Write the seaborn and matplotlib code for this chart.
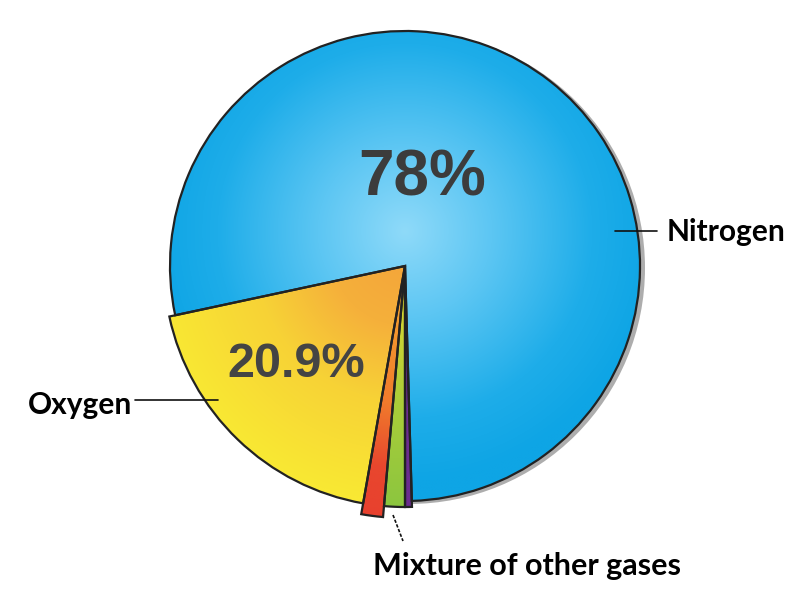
import numpy as np
import matplotlib
matplotlib.use("Agg")
import matplotlib.pyplot as plt
import seaborn as sns
from matplotlib.colors import to_rgb
from matplotlib.patches import Circle

# ---- data (slice shares as drawn, and printed labels) ----
gases = ["Oxygen", "Other gas A", "Other gas B", "Other gas C", "Nitrogen"]
drawn_share = [18.86, 1.39, 1.39, 0.46, 77.9]
pct_text = ["20.9%", "", "", "", "78%"]
outer_labels = ["Oxygen", "Mixture of other gases", "Nitrogen"]
base_colors = ["#f8e234", "#e8412e", "#8cc63f", "#6b2d8f", "#12a7e6"]

sns.set_theme(style="white")
plt.rcParams["font.family"] = ["Lato", "DejaVu Sans"]
palette = sns.color_palette(base_colors)

W, H = 806, 596
fig = plt.figure(figsize=(W / 100, H / 100), dpi=100)
ax = fig.add_axes([0, 0, 1, 1])

cx, cy = 405, 330
wedges, _ = ax.pie(drawn_share, colors=palette, startangle=192.1, counterclock=True,
                   center=(cx, cy), radius=235,
                   wedgeprops=dict(edgecolor="#222222", linewidth=1.6))
radii = [241, 252, 241, 241, 235]
for w, r in zip(wedges, radii):
    w.set_radius(r)

# shadow behind the big disc
ax.add_patch(Circle((cx + 4, cy - 2), 236, color="#adadad", zorder=0.3, lw=0))


def radial(center, rad, stops, ext, n=400):
    xs = np.linspace(ext[0], ext[1], n)
    ys = np.linspace(ext[2], ext[3], n)
    X, Y = np.meshgrid(xs, ys)
    t = np.clip(np.hypot(X - center[0], Y - center[1]) / rad, 0, 1)
    ts = [s[0] for s in stops]
    cols = np.array([to_rgb(s[1]) for s in stops])
    img = np.dstack([np.interp(t, ts, cols[:, k]) for k in range(3)])
    return img


ext = (cx - 265, cx + 265, cy - 265, cy + 265)
grads = [
    ((cx, cy + 15), 250, [(0, "#f4a43a"), (0.3, "#f5b03b"), (0.6, "#f7d236"), (1, "#f9e833")]),
    ((cx, cy), 252, [(0, "#f6b030"), (0.55, "#f07a2c"), (0.8, "#e8472e"), (1, "#e8412e")]),
    ((cx, cy), 241, [(0, "#e6d92e"), (0.6, "#a8cc3a"), (1, "#8cc63f")]),
    ((cx, cy), 241, [(0, "#6b2d8f"), (1, "#6b2d8f")]),
    ((cx, cy + 35), 250, [(0, "#8fdaf9"), (0.35, "#5cc6f3"), (0.75, "#1eade9"), (1, "#0ea5e5")]),
]
for w, (c, r, stops) in zip(wedges, grads):
    img = radial(c, r, stops, ext)
    im = ax.imshow(img, extent=ext, origin="lower", zorder=0.8, interpolation="bilinear")
    im.set_clip_path(w)
    w.set_facecolor("none")
    w.set_zorder(1)

# percentage texts
ax.text(422, 401, pct_text[4], ha="center", va="baseline", fontsize=46,
        fontweight="bold", color="#3c3c3c", family=["Liberation Sans"], zorder=3)
ax.text(296, 219, pct_text[0], ha="center", va="baseline", fontsize=35,
        fontweight="bold", color="#444444", family=["Liberation Sans"], zorder=3)

# leader lines
ax.plot([615, 657], [365, 365], color="#111111", lw=1.2, zorder=3)
ax.plot([135, 218], [196, 196], color="#111111", lw=1.2, zorder=3)
ax.plot([393, 403], [81, 55], color="#111111", lw=1.2, ls=(0, (2, 1)), zorder=3)

# outer labels
ax.text(28, 182, outer_labels[0], ha="left", va="baseline", fontsize=21.5,
        fontweight="bold", color="black", zorder=3)
ax.text(373, 21, outer_labels[1], ha="left", va="baseline", fontsize=22,
        fontweight="bold", color="black", zorder=3)
ax.text(667, 355, outer_labels[2], ha="left", va="baseline", fontsize=21.5,
        fontweight="bold", color="black", zorder=3)

ax.set_xlim(0, W)
ax.set_ylim(0, H)
ax.set_aspect("equal")
ax.axis("off")
fig.savefig("out.png", dpi=100, facecolor="white")
